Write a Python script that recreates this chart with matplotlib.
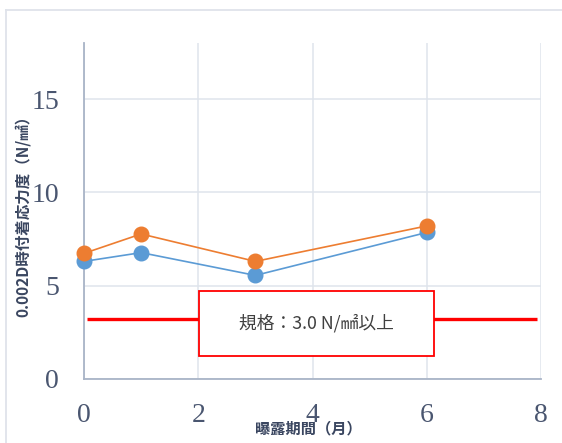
import matplotlib
matplotlib.use("Agg")
import matplotlib.pyplot as plt
from matplotlib.patches import Rectangle
from matplotlib.lines import Line2D

# data
months = [0, 1, 3, 6]
series_blue = [6.3, 6.77, 5.55, 7.85]
series_orange = [6.73, 7.77, 6.3, 8.2]
spec_level = 3.2
spec_label = "規格：3.0 N/㎟以上"
x_ticks = [0, 2, 4, 6, 8]
y_ticks = [0, 5, 10, 15]
xlabel = "曝露期間（月）"
ylabel = "0.002D時付着応力度（N/㎟）"

cjk = ["Noto Sans CJK JP", "DejaVu Sans"]
W, H = 562, 443

fig = plt.figure(figsize=(W / 100, H / 100), dpi=100)
ax = fig.add_axes([84 / W, (H - 379) / H, 457 / W, 336 / H])

# outer chart frame (cut off at right / bottom)
frame_c = "#dfe3ea"
fig.add_artist(Line2D([5.5 / W, 1.02], [1 - 9.5 / H, 1 - 9.5 / H], transform=fig.transFigure, color=frame_c, lw=1.3))
fig.add_artist(Line2D([5.5 / W, 5.5 / W], [1 - 9.5 / H, -0.02], transform=fig.transFigure, color=frame_c, lw=1.3))

ax.set_xlim(0, 8)
ax.set_ylim(0, 18)
ax.set_xticks(x_ticks)
ax.set_yticks(y_ticks)
ax.grid(True, color="#dfe4ec", lw=1.1, zorder=0)
ax.set_axisbelow(True)
for s in ["top", "right"]:
    ax.spines[s].set_visible(False)
for s in ["left", "bottom"]:
    ax.spines[s].set_color("#a9b4c7")
    ax.spines[s].set_linewidth(1.3)
ax.tick_params(length=0, labelsize=20, labelcolor="#4a5670")
ax.tick_params(axis="x", pad=17)
ax.tick_params(axis="y", pad=18)
for lab in ax.get_xticklabels() + ax.get_yticklabels():
    lab.set_family("Liberation Serif")

# spec line
ax.plot([0.05, 7.93], [spec_level, spec_level], color="#ff0000", lw=2.4, zorder=2, solid_capstyle="butt")

ax.plot(months, series_blue, color="#5b9bd5", lw=1.2, marker="o", ms=10.5, zorder=3, clip_on=False)
ax.plot(months, series_orange, color="#ed7d31", lw=1.2, marker="o", ms=10.5, zorder=4, clip_on=False)

# spec text box
box = Rectangle((2.01, 1.23), 4.12, 3.48, facecolor="white", edgecolor="#ff0000", lw=1.3, zorder=5)
ax.add_patch(box)
ax.text(4.07, 2.97, spec_label, ha="center", va="center", fontsize=12.8, color="#404040", family=cjk, zorder=6)

fig.text(23 / W, 1 - 212 / H, ylabel, rotation=90, ha="center", va="center",
         fontsize=11.2, fontweight="bold", color="#3a4660", family=cjk)
fig.text(308 / W, 1 - 428 / H, xlabel, ha="center", va="center",
         fontsize=11, fontweight="bold", color="#3a4660", family=cjk)

fig.savefig("out.png", dpi=100, facecolor="white")
